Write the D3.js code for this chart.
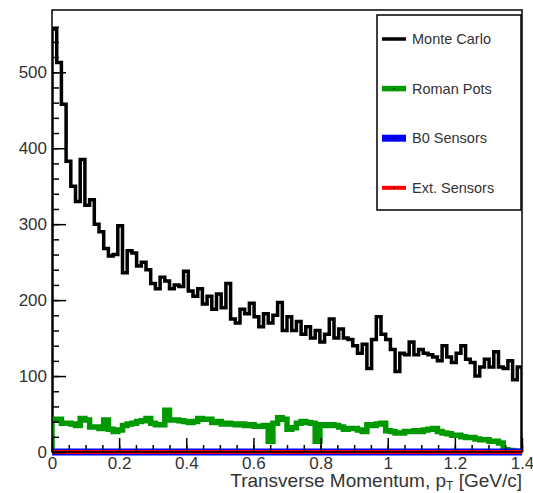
<!DOCTYPE html>
<html>
<head>
<meta charset="utf-8">
<script src="https://cdn.jsdelivr.net/npm/d3@7"></script>
<style>
	body { margin: 0; background: #fff; }
	svg text { font-family: "Liberation Sans", Arial, Helvetica, sans-serif; fill: #333; }
</style>
</head>
<body>
<svg id="chart" width="533" height="493"></svg>
<script>
	//  histogram binning: 100 bins over 0 - 1.4 GeV/c
	var binLow = 0, binHigh = 1.4, nBins = 100;

	var monteCarlo = [
		557, 513, 458, 383, 350, 330, 385, 325, 332, 300,
		290, 268, 258, 260, 298, 236, 265, 262, 245, 250,
		240, 222, 215, 230, 225, 215, 220, 218, 238, 212,
		205, 215, 195, 205, 188, 208, 190, 222, 175, 170,
		188, 182, 196, 178, 165, 182, 170, 180, 197, 160,
		178, 160, 172, 155, 165, 150, 160, 145, 155, 175,
		150, 162, 150, 148, 140, 130, 142, 110, 148, 178,
		155, 148, 135, 106, 130, 128, 145, 128, 135, 130,
		128, 125, 120, 140, 125, 118, 130, 140, 122, 118,
		100, 112, 122, 112, 132, 112, 110, 120, 95, 112
	];

	var romanPots = [
		43, 43, 38, 38, 37, 35, 44, 42, 33, 33,
		31, 42, 30, 27, 29, 35, 37, 38, 40, 41,
		44, 38, 36, 36, 55, 42, 42, 41, 40, 39,
		40, 44, 43, 43, 39, 40, 37, 38, 37, 36,
		37, 35, 36, 34, 34, 35, 14, 38, 45, 43,
		30, 32, 38, 40, 39, 38, 14, 36, 35, 36,
		35, 33, 30, 31, 31, 29, 27, 36, 35, 37,
		38, 28, 27, 25, 25, 27, 27, 28, 27, 29,
		30, 31, 27, 25, 24, 22, 22, 20, 19, 19,
		17, 16, 16, 14, 14, 12, 3, 2, 1, 1
	];

	//  B0 and off-momentum sensors register nothing in this range
	var b0Sensors = d3.range(nBins).map(function() { return 0; });
	var extSensors = d3.range(nBins).map(function() { return 0; });

	var yMajorTicks = [0, 100, 200, 300, 400, 500];
	var xMajorTicks = [0, 0.2, 0.4, 0.6, 0.8, 1, 1.2, 1.4];

	var series = [
		{name: "Monte Carlo", values: monteCarlo, color: "#000000", width: 3.5, dot: false},
		{name: "Roman Pots", values: romanPots, color: "#009a00", width: 5.5, dot: true},
		{name: "B0 Sensors", values: b0Sensors, color: "#0000ff", width: 7, dot: true},
		{name: "Ext. Sensors", values: extSensors, color: "#ff0000", width: 4, dot: true}
	];

	var frame = {left: 52, right: 522, top: 10, bottom: 452};

	var svg = d3.select("#chart");

	var x = d3.scaleLinear().domain([binLow, binHigh]).range([frame.left, frame.right]);
	var y = d3.scaleLinear().domain([0, 582]).range([frame.bottom, frame.top]);

	function histPoints(values) {
		var w = (binHigh - binLow) / values.length;
		var pts = [[binLow, 0]];
		values.forEach(function(v, i) {
			pts.push([binLow + i * w, v]);
			pts.push([binLow + (i + 1) * w, v]);
		});
		pts.push([binHigh, 0]);
		return pts;
	}

	var line = d3.line()
		.x(function(d) { return x(d[0]); })
		.y(function(d) { return y(d[1]); });

	//  histograms
	var plot = svg.append("g");
	plot.append("defs").append("clipPath").attr("id", "frame-clip")
		.append("rect")
		.attr("x", frame.left).attr("y", frame.top)
		.attr("width", frame.right - frame.left)
		.attr("height", frame.bottom - frame.top + 6);

	plot.selectAll("path.hist")
		.data(series)
		.enter().append("path")
		.attr("class", "hist")
		.attr("clip-path", "url(#frame-clip)")
		.attr("d", function(d) { return line(histPoints(d.values)); })
		.attr("fill", "none")
		.attr("stroke", function(d) { return d.color; })
		.attr("stroke-width", function(d) { return d.width; })
		.attr("stroke-linejoin", "miter");

	//  axes, ROOT style: ticks point into the frame
	var yAxis = d3.axisLeft(y)
		.tickValues(yMajorTicks)
		.tickSize(-14)
		.tickPadding(5)
		.tickFormat(d3.format("d"));
	var yMinor = d3.axisLeft(y)
		.tickValues(d3.range(0, 580, 20))
		.tickSize(-7)
		.tickFormat("");
	var xAxis = d3.axisBottom(x)
		.tickValues(xMajorTicks)
		.tickSize(-14)
		.tickPadding(5)
		.tickFormat(function(d) { return String(+d.toFixed(1)); });
	var xMinor = d3.axisBottom(x)
		.tickValues(d3.range(0, 1.4001, 0.05))
		.tickSize(-7)
		.tickFormat("");

	function styleAxis(g) {
		g.select(".domain").remove();
		g.selectAll("line").attr("stroke", "#000").attr("stroke-width", 1.5);
		g.selectAll("text").style("font-size", "17px").attr("fill", "#333");
	}

	svg.append("g").attr("transform", "translate(" + frame.left + ",0)").call(yMinor).call(styleAxis);
	svg.append("g").attr("transform", "translate(" + frame.left + ",0)").call(yAxis).call(styleAxis);
	svg.append("g").attr("transform", "translate(0," + frame.bottom + ")").call(xMinor).call(styleAxis);
	svg.append("g").attr("transform", "translate(0," + frame.bottom + ")").call(xAxis).call(styleAxis);

	//  frame
	svg.append("rect")
		.attr("x", frame.left).attr("y", frame.top)
		.attr("width", frame.right - frame.left)
		.attr("height", frame.bottom - frame.top)
		.attr("fill", "none")
		.attr("stroke", "#000")
		.attr("stroke-width", 1.5);

	//  x title
	var title = svg.append("text")
		.attr("x", frame.right)
		.attr("y", 487)
		.attr("text-anchor", "end")
		.style("font-size", "19px");
	title.append("tspan").text("Transverse Momentum, p");
	title.append("tspan").attr("dy", 3).style("font-size", "12px").text("T");
	title.append("tspan").attr("dy", -3).text(" [GeV/c]");

	//  legend
	var legend = svg.append("g").attr("class", "legend");
	legend.append("rect")
		.attr("x", 377).attr("y", 15)
		.attr("width", 144).attr("height", 195)
		.attr("fill", "#fff")
		.attr("stroke", "#000")
		.attr("stroke-width", 1.5);

	var entries = legend.selectAll("g.entry")
		.data(series)
		.enter().append("g")
		.attr("class", "entry")
		.attr("transform", function(d, i) {
			return "translate(382," + (39 + i * 49.6) + ")";
		});
	entries.append("line")
		.attr("x1", 0).attr("x2", 24)
		.attr("stroke", function(d) { return d.color; })
		.attr("stroke-width", function(d) { return d.width; });
	entries.filter(function(d) { return d.dot; })
		.append("circle")
		.attr("cx", 12).attr("r", 0.9)
		.attr("fill", "#000");
	entries.append("text")
		.attr("x", 30)
		.attr("dy", "0.36em")
		.style("font-size", "14.5px")
		.text(function(d) { return d.name; });
</script>
</body>
</html>
